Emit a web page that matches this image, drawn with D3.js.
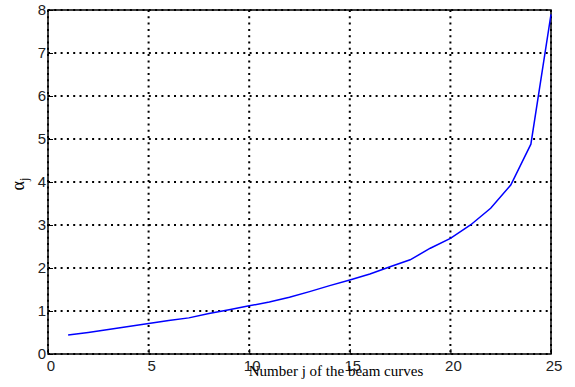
<!DOCTYPE html>
<html>
<head>
<meta charset="utf-8">
<title>alpha_j vs beam curve number</title>
<script src="https://d3js.org/d3.v7.min.js"></script>
<style>
    body { margin: 0; background: #ffffff; }
    .tick-label { font-family: "Liberation Sans", Arial, sans-serif; font-size: 15px; fill: #222; }
    .axis-title { font-family: "Liberation Serif", "Times New Roman", serif; font-size: 15px; fill: #000; }
</style>
</head>
<body>
<div id="chart"></div>
<script>
    // curve number j and the alpha_j values
    var jValues = [1, 2, 3, 4, 5, 6, 7, 8, 9, 10, 11, 12, 13, 14, 15, 16, 17, 18, 19, 20, 21, 22, 23, 24, 25];
    var alphaValues = [0.44, 0.50, 0.57, 0.64, 0.71, 0.78, 0.84, 0.94, 1.03, 1.12, 1.21, 1.32, 1.45, 1.59, 1.72,
                       1.86, 2.03, 2.19, 2.46, 2.69, 3.0, 3.39, 3.93, 4.88, 7.9];
    var xTicks = [0, 5, 10, 15, 20, 25];
    var yTicks = [0, 1, 2, 3, 4, 5, 6, 7, 8];

    var W = 575, H = 387;
    var margin = { top: 10, right: 24, bottom: 33, left: 48 };
    var width = W - margin.left - margin.right;
    var height = H - margin.top - margin.bottom;

    var svg = d3.select('#chart').append('svg')
        .attr('width', W)
        .attr('height', H);

    var g = svg.append('g')
        .attr('transform', 'translate(' + margin.left + ',' + margin.top + ')');

    var x = d3.scaleLinear().domain([0, 25]).range([0, width]);
    var y = d3.scaleLinear().domain([0, 8]).range([height, 0]);

    // dotted grid
    g.selectAll('.vgrid').data(xTicks).enter().append('line')
        .attr('x1', function(d) { return x(d); })
        .attr('x2', function(d) { return x(d); })
        .attr('y1', 0).attr('y2', height)
        .attr('stroke', '#000').attr('stroke-width', 2)
        .attr('stroke-dasharray', '2,4.3');

    g.selectAll('.hgrid').data(yTicks).enter().append('line')
        .attr('y1', function(d) { return y(d); })
        .attr('y2', function(d) { return y(d); })
        .attr('x1', 0).attr('x2', width)
        .attr('stroke', '#000').attr('stroke-width', 2)
        .attr('stroke-dasharray', '2,4.3');

    // box
    g.append('rect')
        .attr('x', 0).attr('y', 0)
        .attr('width', width).attr('height', height)
        .attr('fill', 'none').attr('stroke', '#000').attr('stroke-width', 1.5);

    // axes (inward ticks, labels drawn separately)
    var xAxis = g.append('g')
        .attr('transform', 'translate(0,' + height + ')')
        .call(d3.axisTop(x).tickValues(xTicks).tickSize(5).tickFormat(''));
    var yAxis = g.append('g')
        .call(d3.axisRight(y).tickValues(yTicks).tickSize(5).tickFormat(''));
    [xAxis, yAxis].forEach(function(a) {
        a.select('.domain').remove();
        a.selectAll('line').attr('stroke', '#000');
    });

    g.selectAll('.xlab').data(xTicks).enter().append('text')
        .attr('class', 'tick-label')
        .attr('x', function(d) { return x(d) + 3; })
        .attr('y', height + 17)
        .attr('text-anchor', 'middle')
        .text(function(d) { return d; });

    g.selectAll('.ylab').data(yTicks).enter().append('text')
        .attr('class', 'tick-label')
        .attr('x', -2)
        .attr('y', function(d) { return y(d); })
        .attr('dy', '0.36em')
        .attr('text-anchor', 'end')
        .text(function(d) { return d; });

    // the curve
    var line = d3.line()
        .x(function(d, i) { return x(jValues[i]); })
        .y(function(d) { return y(d); });

    g.append('path')
        .datum(alphaValues)
        .attr('d', line)
        .attr('fill', 'none')
        .attr('stroke', '#0000ff')
        .attr('stroke-width', 1.5);

    // axis titles
    svg.append('text')
        .attr('class', 'axis-title')
        .attr('x', 336)
        .attr('y', 376)
        .attr('text-anchor', 'middle')
        .text('Number j of the beam curves');

    var yt = svg.append('text')
        .attr('class', 'axis-title')
        .attr('transform', 'translate(24,184) rotate(-90)')
        .attr('text-anchor', 'middle');
    yt.append('tspan').style('font-size', '18px').text('α');
    yt.append('tspan').attr('dy', 4).style('font-size', '12px').text('j');
</script>
</body>
</html>
